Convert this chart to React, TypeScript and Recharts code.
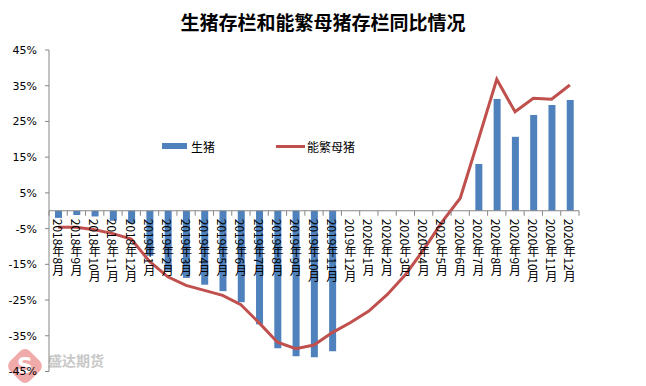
import React from 'react';
import { ComposedChart, Bar, Line, XAxis, YAxis, ReferenceLine, LabelList } from 'recharts';

const categories = [
  '2018年8月', '2018年9月', '2018年10月', '2018年11月', '2018年12月',
  '2019年1月', '2019年2月', '2019年3月', '2019年4月', '2019年5月', '2019年6月',
  '2019年7月', '2019年8月', '2019年9月', '2019年10月', '2019年11月', '2019年12月',
  '2020年1月', '2020年2月', '2020年3月', '2020年4月', '2020年5月', '2020年6月',
  '2020年7月', '2020年8月', '2020年9月', '2020年10月', '2020年11月', '2020年12月',
];

const hogValues: (number | null)[] = [
  -2.0, -1.2, -1.6, -2.8, -3.5,
  -12.6, -16.8, -18.8, -20.7, -22.5, -25.6,
  -31.8, -38.5, -40.7, -41.0, -39.3, null,
  null, null, null, null, null, null,
  13.1, 31.3, 20.7, 26.8, 29.6, 31.0,
];

const sowValues: number[] = [
  -4.6, -4.6, -5.3, -6.4, -7.9,
  -14.2, -18.5, -20.9, -22.3, -23.7, -26.3,
  -31.4, -36.8, -38.6, -37.6, -34.1, -31.3,
  -28.1, -23.5, -17.9, -10.9, -3.2, 3.5,
  20.0, 36.8, 27.7, 31.5, 31.2, 35.2,
];

const yTicks = [-45, -35, -25, -15, -5, 5, 15, 25, 35, 45];

const data = categories.map((c, i) => ({ name: c, hog: hogValues[i], sow: sowValues[i] }));

const W = 630;
const H = 378;
const M_TOP = 42;
const X_H = 14.5;
const M_RIGHT = 59;
const Y_W = 41;
const PLOT_W = W - M_RIGHT - Y_W;
const PLOT_H = H - M_TOP - X_H;
const ZERO_Y = M_TOP + PLOT_H / 2;
const BAND = PLOT_W / categories.length;
const AXIS_COLOR = '#868686';

const renderXTick = (props: any) => {
  const { x, index } = props;
  return (
    <g key={`xt-${index}`}>
      <line x1={x - BAND / 2} x2={x - BAND / 2} y1={ZERO_Y} y2={ZERO_Y + 5} stroke={AXIS_COLOR} strokeWidth={1} />
      {index === categories.length - 1 && (
        <line x1={x + BAND / 2} x2={x + BAND / 2} y1={ZERO_Y} y2={ZERO_Y + 5} stroke={AXIS_COLOR} strokeWidth={1} />
      )}
    </g>
  );
};

const renderCatLabel = (props: any) => {
  const { x, index } = props;
  return (
    <text
      key={`cl-${index}`}
      x={x}
      y={ZERO_Y + 8}
      fontSize={12}
      fill="#000"
      textAnchor="start"
      style={{ writingMode: 'vertical-rl', fontFamily: '"Noto Sans CJK SC", "DejaVu Sans", sans-serif' } as any}
    >
      {categories[index]}
    </text>
  );
};

export default function App() {
  return (
    <div style={{ position: 'relative', width: W, height: H, fontFamily: '"Noto Sans CJK SC", sans-serif' }}>
      {/* watermark */}
      <div style={{ position: 'absolute', left: 0, top: 341, width: 34, height: 34 }}>
        <div style={{ position: 'absolute', left: 3, top: 3, width: 28, height: 28, borderRadius: 7, background: '#f1aaaa', transform: 'rotate(45deg)' }} />
        <div style={{ position: 'absolute', left: 0, top: 3, width: 34, textAlign: 'center', color: '#fff', fontWeight: 700, fontSize: 22, lineHeight: '28px', fontFamily: '"DejaVu Sans", sans-serif' }}>S</div>
      </div>
      <div style={{ position: 'absolute', left: 40, top: 344, fontSize: 14, fontWeight: 700, color: '#c8c8c8', lineHeight: '16px', letterSpacing: 0 }}>盛达期货</div>
      <div style={{ position: 'absolute', left: 0, top: 0 }}>
        <ComposedChart width={W} height={H} data={data} margin={{ top: M_TOP, right: M_RIGHT, bottom: 0, left: 0 }} barSize={7}>
          <XAxis dataKey="name" height={X_H} axisLine={false} tickLine={false} interval={0} tick={renderXTick} />
          <YAxis
            width={Y_W}
            domain={[-45, 45]}
            ticks={yTicks}
            interval={0}
            tickFormatter={(v: number) => `${v}%`}
            tick={{ fontSize: 11, fill: '#000', fontFamily: '"DejaVu Sans", sans-serif' }}
            tickSize={4}
            tickMargin={8}
            axisLine={{ stroke: AXIS_COLOR }}
            tickLine={{ stroke: AXIS_COLOR }}
          />
          <Bar dataKey="hog" fill="#4F81BD" isAnimationActive={false} />
          <ReferenceLine y={0} stroke={AXIS_COLOR} strokeWidth={1} />
          <Line dataKey="sow" stroke="none" dot={false} activeDot={false} legendType="none" isAnimationActive={false}>
            <LabelList dataKey="sow" content={renderCatLabel} />
          </Line>
          <Line dataKey="sow" type="linear" stroke="#C0504D" strokeWidth={3} dot={false} isAnimationActive={false} />
        </ComposedChart>
      </div>
      {/* title */}
      <div style={{ position: 'absolute', left: 0, top: 3, width: 630, textAlign: 'center', fontSize: 19, fontWeight: 700, lineHeight: '22px', color: '#000' }}>
        生猪存栏和能繁母猪存栏同比情况
      </div>
      {/* legend */}
      <div style={{ position: 'absolute', left: 154, top: 130, height: 16, display: 'flex', alignItems: 'center', fontSize: 12, color: '#000' }}>
        <div style={{ width: 25, height: 6, background: '#4F81BD' }} />
        <div style={{ marginLeft: 4, width: 85 }}>生猪</div>
        <div style={{ width: 29, height: 3, background: '#C0504D' }} />
        <div style={{ marginLeft: 2 }}>能繁母猪</div>
      </div>
    </div>
  );
}
